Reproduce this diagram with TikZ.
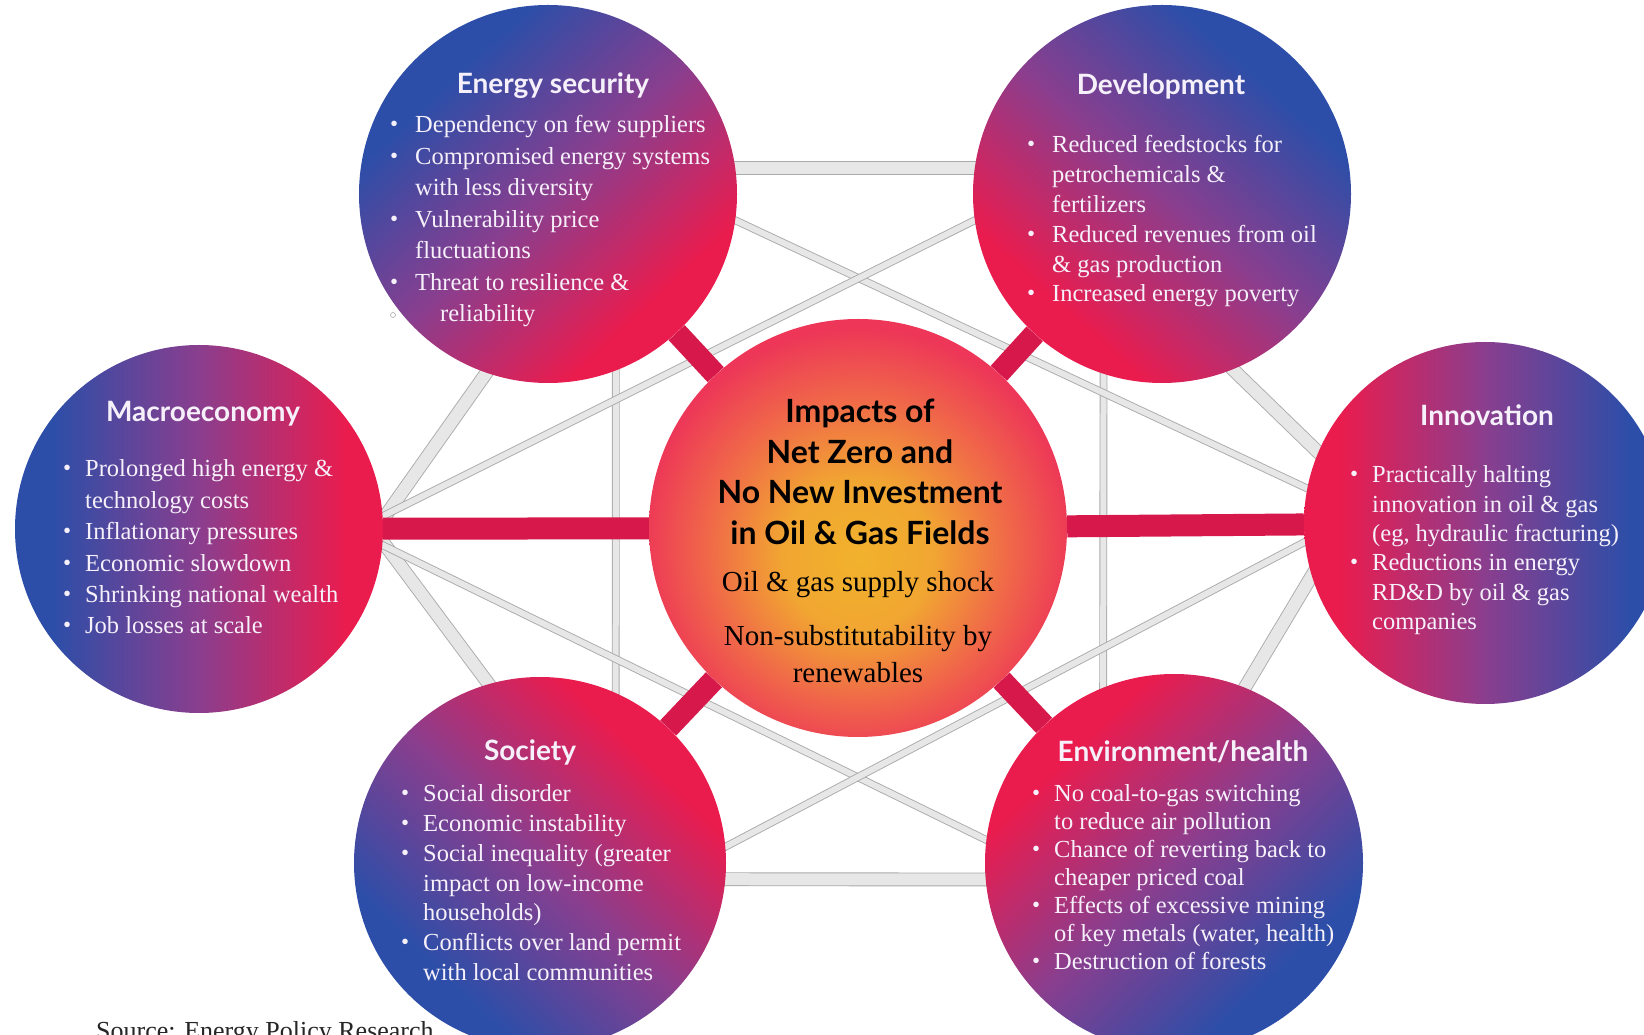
\documentclass[tikz,border=0pt]{standalone}
\usepackage{fontspec}
\setmainfont{Liberation Serif}
\newfontfamily\headfont{Lato}

\definecolor{petalblue}{RGB}{44,78,168}
\definecolor{petalmid}{RGB}{138,62,142}
\definecolor{petalred}{RGB}{234,28,78}
\definecolor{hubinner}{RGB}{241,178,44}
\definecolor{hubmid}{RGB}{242,138,62}
\definecolor{hubouter}{RGB}{237,54,88}
\definecolor{spokered}{RGB}{215,24,74}
\definecolor{linkfill}{RGB}{231,231,231}
\definecolor{linkedge}{RGB}{170,170,170}
\definecolor{petaltext}{RGB}{246,240,250}

% blue on the outside, red towards the hub
\pgfdeclareverticalshading{petal}{100bp}{%
  color(0bp)=(petalblue); color(30bp)=(petalblue);
  color(50bp)=(petalmid);
  color(70bp)=(petalred); color(100bp)=(petalred)}

% warm core of the hub, a little below the middle
\pgfdeclareradialshading{hubglow}{\pgfpoint{0bp}{-4bp}}{%
  color(0bp)=(hubinner); color(9bp)=(hubinner!70!hubmid);
  color(18bp)=(hubmid!60!hubouter);
  color(26bp)=(hubouter); color(50bp)=(hubouter)}

\pgfdeclarelayer{links}
\pgfdeclarelayer{spokes}
\pgfsetlayers{links,spokes,main}

\newcommand{\listdot}{\raisebox{1pt}{\fontsize{23}{23}\selectfont\textbullet}}

\begin{document}
\begin{tikzpicture}[
  x=1pt, y=1pt,
  petal/.style={
    circle,
    inner sep=0pt,
    minimum size=378pt,
    shade,
    shading=petal,
    shading angle=#1
  },
  hub/.style={
    circle,
    inner sep=0pt,
    minimum size=418pt,
    shade,
    shading=hubglow
  },
  spoke/.style={
    draw=spokered,
    line width=22pt
  },
  link/.style={
    draw=linkedge,
    line width=0.9pt,
    double=linkfill,
    double distance=#1,
    shorten <=-12pt,
    shorten >=-12pt
  },
  link/.default=6pt,
  heading/.style={
    font=\headfont\bfseries\fontsize{28}{32}\selectfont,
    text=petaltext,
    inner sep=0pt
  },
  bullets/.style={
    font=\fontsize{24.5}{#1}\selectfont,
    text=petaltext,
    anchor=base west,
    inner sep=0pt
  }
]%
\useasboundingbox (0,0) rectangle (1644,1034);

% the six impact areas and the hub
\node [hub] (hub) at (858,506) {};
\node [petal=-137] (es) at (548,840) {};
\node [petal=138] (dev) at (1162,840) {};
\node [petal=-90, minimum size=368pt] (mac) at (199,505) {};
\node [petal=90, minimum size=362pt] (inn) at (1485,511) {};
\node [petal=-44, minimum size=372pt] (soc) at (540,171) {};
\node [petal=44] (env) at (1174,171) {};

% grey web between the outer circles
\begin{pgfonlayer}{links}
  \fill [white] (0,0) rectangle (1644,1034);
  % outer ring
  \draw [link=12pt] (es.8) -- (dev.172);
  \draw [link=12pt] (soc.-5) -- (env.185);
  \draw [link=12pt] (es.251) -- (mac.3);
  \draw [link=12pt] (mac.-4) -- (soc.106);
  \draw [link=12pt] (dev.-68) -- (inn.157);
  \draw [link=12pt] (inn.197) -- (env.68);
  % cross links
  \draw [link] (es.-69) -- (soc.66);
  \draw [link] (dev.-108) -- (env.112);
  \draw [link] (es.-8) -- (inn.169);
  \draw [link] (dev.188) -- (mac.4);
  \draw [link] (mac.-5) -- (env.173);
  \draw [link] (inn.186) -- (soc.5);
\end{pgfonlayer}

\begin{pgfonlayer}{spokes}
  \foreach \area in {es,dev,mac,inn,soc,env}
    \draw [spoke] (hub) -- (\area);
\end{pgfonlayer}

% hub text
\node [font=\headfont\bfseries\fontsize{32}{40.5}\selectfont, align=center, inner sep=0pt]
  (hub-title) at (860,562) {Impacts of\\Net Zero and\\No New Investment\\in Oil \& Gas Fields};
\node [font=\fontsize{29}{34}\selectfont, inner sep=0pt]
  (hub-shock) at (858,449) {Oil \& gas supply shock};
\node [font=\fontsize{29}{37}\selectfont, align=center, inner sep=0pt]
  (hub-renew) at (858,380) {Non-substitutability by\\renewables};

% energy security
\node [heading] (es-head) at (553,948) {Energy security};
\node [bullets=31.5] (es-list) at (390,901) {\begin{tabular}[t]{@{}p{25pt}@{}l@{}}
  \listdot & Dependency on few suppliers\\
  \listdot & Compromised energy systems\\
           & with less diversity\\
  \listdot & Vulnerability price\\
           & fluctuations\\
  \listdot & Threat to resilience \&\\
           & \hspace{25pt}reliability
\end{tabular}};
\node [circle, draw=linkedge, line width=0.6pt, inner sep=0pt, minimum size=5pt] (es-mark) at (393,719) {};

% development
\node [heading] (dev-head) at (1161,948) {Development};
\node [bullets=29.8] (dev-list) at (1027,881) {\begin{tabular}[t]{@{}p{25pt}@{}l@{}}
  \listdot & Reduced feedstocks for\\
           & petrochemicals \&\\
           & fertilizers\\
  \listdot & Reduced revenues from oil\\
           & \& gas production\\
  \listdot & Increased energy poverty
\end{tabular}};

% macroeconomy
\node [heading] (mac-head) at (203,620) {Macroeconomy};
\node [bullets=31.4] (mac-list) at (63,557) {\begin{tabular}[t]{@{}p{22pt}@{}l@{}}
  \listdot & Prolonged high energy \&\\
           & technology costs\\
  \listdot & Inflationary pressures\\
  \listdot & Economic slowdown\\
  \listdot & Shrinking national wealth\\
  \listdot & Job losses at scale
\end{tabular}};

% innovation
\node [heading] (inn-head) at (1487,619) {Innovation};
\node [bullets=29.3] (inn-list) at (1350,551) {\begin{tabular}[t]{@{}p{22pt}@{}l@{}}
  \listdot & Practically halting\\
           & innovation in oil \& gas\\
           & (eg, hydraulic fracturing)\\
  \listdot & Reductions in energy\\
           & RD\&D by oil \& gas\\
           & companies
\end{tabular}};

% society
\node [heading] (soc-head) at (530,282) {Society};
\node [bullets=29.7] (soc-list) at (401,232) {\begin{tabular}[t]{@{}p{22pt}@{}l@{}}
  \listdot & Social disorder\\
  \listdot & Economic instability\\
  \listdot & Social inequality (greater\\
           & impact on low-income\\
           & households)\\
  \listdot & Conflicts over land permit\\
           & with local communities
\end{tabular}};

% environment / health
\node [heading] (env-head) at (1183,282) {Environment/health};
\node [bullets=28] (env-list) at (1032,232) {\begin{tabular}[t]{@{}p{22pt}@{}l@{}}
  \listdot & No coal-to-gas switching\\
           & to reduce air pollution\\
  \listdot & Chance of reverting back to\\
           & cheaper priced coal\\
  \listdot & Effects of excessive mining\\
           & of key metals (water, health)\\
  \listdot & Destruction of forests
\end{tabular}};

\node [anchor=base west, font=\fontsize{26}{30}\selectfont, text=black!85, inner sep=0pt]
  (source) at (96,-5) {Source: Energy Policy Research};
\end{tikzpicture}
\end{document}
